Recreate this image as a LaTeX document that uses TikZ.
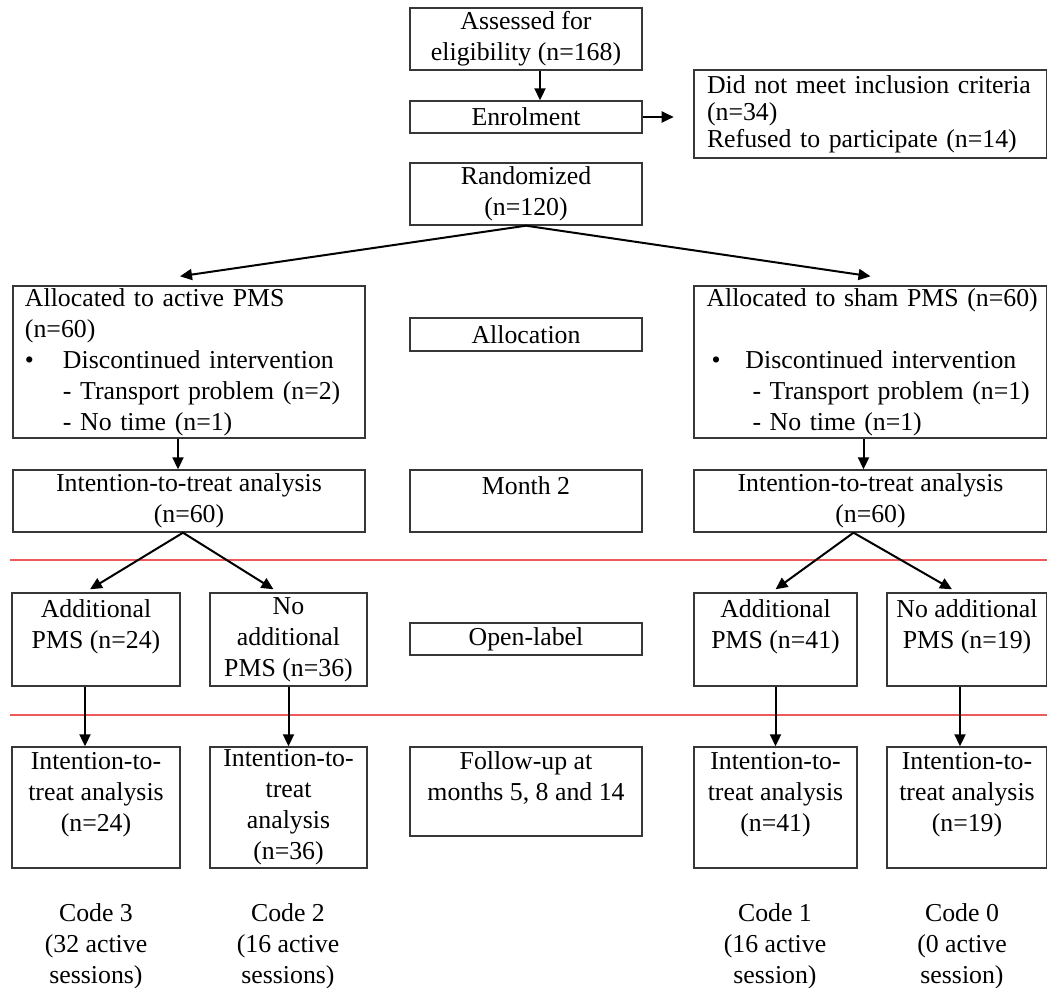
\documentclass[tikz,border=0pt]{standalone}
\usepackage{fontspec}
\setmainfont{Liberation Serif}
\usepackage{xcolor}
\usepackage{tikz}
\usetikzlibrary{arrows.meta,positioning}
\definecolor{sepred}{RGB}{238,90,90}
\definecolor{boxgray}{RGB}{55,55,55}

\begin{document}
\begin{tikzpicture}[
  x=0.5pt, y=-0.5pt,
  every node/.style={font=\fontsize{12.9pt}{15.5pt}\selectfont},
  box/.style={draw=boxgray, line width=0.7pt, inner xsep=2pt, inner ysep=0pt,
              align=center, minimum width=116pt, minimum height=31pt},
  bigbox/.style={box, align=left, inner xsep=6pt, text width=164pt},
  smallbox/.style={box, minimum height=46.5pt},
  ittbox/.style={box, minimum height=60.5pt},
  arr/.style={-{Triangle[length=6pt,width=5.5pt]}, line width=1pt},
  sepline/.style={draw=sepred, line width=1pt},
  codelbl/.style={align=center, inner sep=0pt}
]
\useasboundingbox (0,0) rectangle (1047,988);

% Screening and enrolment
\node[box] (assess) at (526,39) {Assessed for\\eligibility (n=168)};
\node[box, minimum height=16pt] (enrol) at (526,117) {Enrolment};
\node[box, align=left, inner xsep=6.5pt, text width=163.5pt, minimum width=176.5pt,
      minimum height=44pt, font=\fontsize{12.9pt}{13.5pt}\selectfont]
  (excl) at (870.5,114) {Did not meet inclusion criteria\\(n=34)\\Refused to participate (n=14)};
\node[box] (rand) at (526,194) {Randomized\\(n=120)};

% Allocation row
\node[bigbox, minimum height=76pt] (allocA) at (189,362)
  {Allocated to active PMS\\(n=60)\\
   \makebox[19pt][l]{\textbullet}Discontinued intervention\\
   \hspace*{19pt}- Transport problem (n=2)\\
   \hspace*{19pt}- No time (n=1)};
\node[box, minimum height=16.5pt] (allocation) at (526,334.5) {Allocation};
\node[bigbox, minimum height=76pt, minimum width=176.5pt] (allocS) at (870.5,362)
  {\mbox{Allocated to sham PMS (n=60)}\\~\\
   \hspace*{2.5pt}\makebox[17pt][l]{\textbullet}Discontinued intervention\\
   \hspace*{23pt}- Transport problem (n=1)\\
   \hspace*{23pt}- No time (n=1)};

% Month 2
\node[box, minimum width=176pt] (ittA) at (189,501) {Intention-to-treat analysis\\(n=60)};
\node[box] (month) at (526,501) {Month 2\\~};
\node[box, minimum width=176.5pt] (ittS) at (870.5,501) {Intention-to-treat analysis\\(n=60)};

% Open-label row
\node[smallbox, minimum width=84pt]   (addA)   at (96,639.5)    {Additional\\PMS (n=24)\\~};
\node[smallbox, minimum width=78.5pt] (noaddA) at (288.5,639.5) {No\\additional\\PMS (n=36)};
\node[box, minimum height=16pt]       (openlbl) at (526,639)    {Open-label};
\node[smallbox, minimum width=81.5pt] (addS)   at (775.5,639.5) {Additional\\PMS (n=41)\\~};
\node[smallbox, minimum width=80pt]   (noaddS) at (967,639.5)   {No additional\\PMS (n=19)\\~};

% Follow-up row
\node[ittbox, minimum width=84pt]   (ittA1) at (96,807.5)    {Intention-to-\\treat analysis\\(n=24)\\~};
\node[ittbox, minimum width=78.5pt] (ittA2) at (288.5,807.5) {Intention-to-\\treat\\analysis\\(n=36)};
\node[box, minimum height=44.5pt]   (follow) at (526,791.5)  {Follow-up at\\months 5, 8 and 14\\~};
\node[ittbox, minimum width=81.5pt] (ittS1) at (775.5,807.5) {Intention-to-\\treat analysis\\(n=41)\\~};
\node[ittbox, minimum width=80pt]   (ittS2) at (967,807.5)   {Intention-to-\\treat analysis\\(n=19)\\~};

% Codes
\node[codelbl] (code3) at (96,946)  {Code 3\\(32 active\\sessions)};
\node[codelbl] (code2) at (288,946) {Code 2\\(16 active\\sessions)};
\node[codelbl] (code1) at (775,946) {Code 1\\(16 active\\session)};
\node[codelbl] (code0) at (962,946) {Code 0\\(0 active\\session)};

% Separators
\draw[sepline] (10,560) -- (1047,560);
\draw[sepline] (10,715) -- (1047,715);

% Arrows
\draw[arr] ([xshift=7pt]assess.south) -- ([xshift=7pt]enrol.north);
\draw[arr] (enrol.east) -- ++(15.5pt,0);
\draw[arr] (rand.south) -- ([xshift=-4.5pt,yshift=4.5pt]allocA.north);
\draw[arr] (rand.south) -- ([yshift=4.5pt]allocS.north);
\draw[arr] ([xshift=-5.5pt]allocA.south) -- ([xshift=-5.5pt]ittA.north);
\draw[arr] ([xshift=-3.5pt]allocS.south) -- ([xshift=-3.5pt]ittS.north);
\draw[arr] ([xshift=-3pt]ittA.south) -- ([xshift=-3pt,yshift=1.5pt]addA.north);
\draw[arr] ([xshift=-3pt]ittA.south) -- ([xshift=-7.5pt,yshift=1.5pt]noaddA.north);
\draw[arr] ([xshift=-8.5pt]ittS.south) -- ([yshift=1.5pt]addS.north);
\draw[arr] ([xshift=-8.5pt]ittS.south) -- ([xshift=-7.5pt,yshift=1.5pt]noaddS.north);
\draw[arr] ([xshift=-5.5pt]addA.south) -- ([xshift=-5.5pt]ittA1.north);
\draw[arr] (noaddA.south) -- (ittA2.north);
\draw[arr] (addS.south) -- (ittS1.north);
\draw[arr] ([xshift=-3.5pt]noaddS.south) -- ([xshift=-3.5pt]ittS2.north);
\end{tikzpicture}
\end{document}
